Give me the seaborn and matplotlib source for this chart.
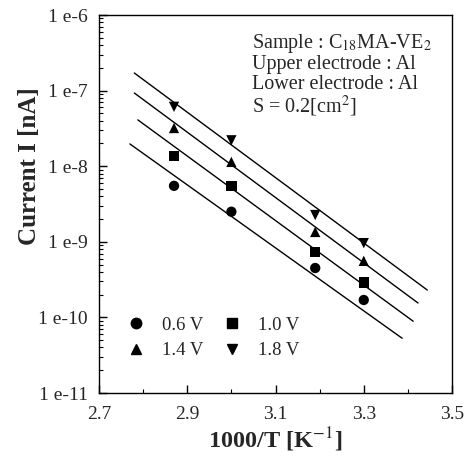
import numpy as np
import pandas as pd
import matplotlib
matplotlib.use("Agg")
import matplotlib.pyplot as plt
import matplotlib.ticker as mticker
import seaborn as sns

voltages = ["0.6 V", "1.0 V", "1.4 V", "1.8 V"]
inv_temp = [2.87, 3.0, 3.19, 3.3]
current = {
    "0.6 V": [5.5e-9, 2.5e-9, 4.5e-10, 1.7e-10],
    "1.0 V": [1.36e-8, 5.5e-9, 7.3e-10, 2.9e-10],
    "1.4 V": [3.2e-8, 1.14e-8, 1.35e-9, 5.6e-10],
    "1.8 V": [6.1e-8, 2.2e-8, 2.26e-9, 9.6e-10],
}

# fitted lines (end points)
fit_x_start = [2.77, 2.788, 2.78, 2.78]
fit_x_end = [3.387, 3.412, 3.423, 3.444]
fit_y_start = [1.97e-8, 4.1e-8, 9.3e-8, 1.71e-7]
fit_y_end = [5.3e-11, 8.9e-11, 1.55e-10, 2.3e-10]

x_ticks = [2.7, 2.9, 3.1, 3.3, 3.5]
x_ticklabels = ["2.7", "2.9", "3.1", "3.3", "3.5"]
y_ticks = [1e-11, 1e-10, 1e-9, 1e-8, 1e-7, 1e-6]
y_ticklabels = ["1 e-11", "1 e-10", "1 e-9", "1 e-8", "1 e-7", "1 e-6"]

rows = []
for v in voltages:
    for x, y in zip(inv_temp, current[v]):
        rows.append({"x": x, "I": y, "V": v})
df = pd.DataFrame(rows)

fit_rows = []
for v, x0, x1, y0, y1 in zip(voltages, fit_x_start, fit_x_end, fit_y_start, fit_y_end):
    fit_rows.append({"x": x0, "I": y0, "V": v})
    fit_rows.append({"x": x1, "I": y1, "V": v})
df_fit = pd.DataFrame(fit_rows)

sns.set_style("ticks")
plt.rcParams["font.family"] = ["Liberation Serif", "DejaVu Serif"]
plt.rcParams["mathtext.fontset"] = "stix"

fig = plt.figure(figsize=(4.71, 4.61), dpi=100)
ax = fig.add_axes([99 / 471, 68 / 461, 353 / 471, 378 / 461])

sns.lineplot(data=df_fit, x="x", y="I", units="V", estimator=None,
             color="black", lw=1.0, ax=ax, legend=False)

markers = {"0.6 V": "o", "1.0 V": "s", "1.4 V": "^", "1.8 V": "v"}
sns.scatterplot(data=df, x="x", y="I", style="V", markers=markers,
                hue="V", palette=["black"] * 4, s=55, edgecolor="black",
                linewidth=0, ax=ax, legend=False)

ax.set_yscale("log")
ax.set_xlim(2.7, 3.5)
ax.set_ylim(1e-11, 1e-6)

ax.set_xticks(x_ticks)
ax.set_xticklabels(x_ticklabels)
ax.xaxis.set_minor_locator(mticker.MultipleLocator(0.1))
ax.set_yticks(y_ticks)
ax.set_yticklabels(y_ticklabels)
ax.yaxis.set_minor_locator(mticker.LogLocator(base=10, subs=np.arange(2, 10)))
ax.yaxis.set_minor_formatter(mticker.NullFormatter())

ax.tick_params(which="both", direction="in", top=False, right=False,
               labelsize=14, color="black")
ax.tick_params(which="major", length=6, width=1.0)
ax.tick_params(which="minor", length=3, width=0.8)
ax.tick_params(axis="x", which="major", pad=9)
ax.tick_params(axis="y", which="major", pad=8)
for s in ax.spines.values():
    s.set_linewidth(1.0)
    s.set_color("black")

ax.set_xlabel("1000/T [K$^{-1}$]", fontsize=17.5, fontweight="bold", labelpad=2)
ax.set_ylabel("Current I [nA]", fontsize=18, fontweight="bold")
ax.yaxis.set_label_coords(-0.165, 0.6)

ax.text(0.433, 0.955,
        "Sample : C$_{18}$MA-VE$_2$\nUpper electrode : Al\nLower electrode : Al\nS = 0.2[cm$^2$]",
        transform=ax.transAxes, fontsize=14.5, va="top", ha="left",
        linespacing=1.02)

handles = [plt.Line2D([], [], ls="none", marker=markers[v], color="black",
                      markersize=7.5) for v in ["0.6 V", "1.4 V", "1.0 V", "1.8 V"]]
ax.legend(handles, ["0.6 V", "1.4 V", "1.0 V", "1.8 V"], ncol=2,
          loc="lower left", bbox_to_anchor=(0.03, 0.045), frameon=False,
          fontsize=13.5, handlelength=1.0, handletextpad=0.9, columnspacing=1.0,
          labelspacing=0.45)

fig.savefig("out.png", dpi=100)
